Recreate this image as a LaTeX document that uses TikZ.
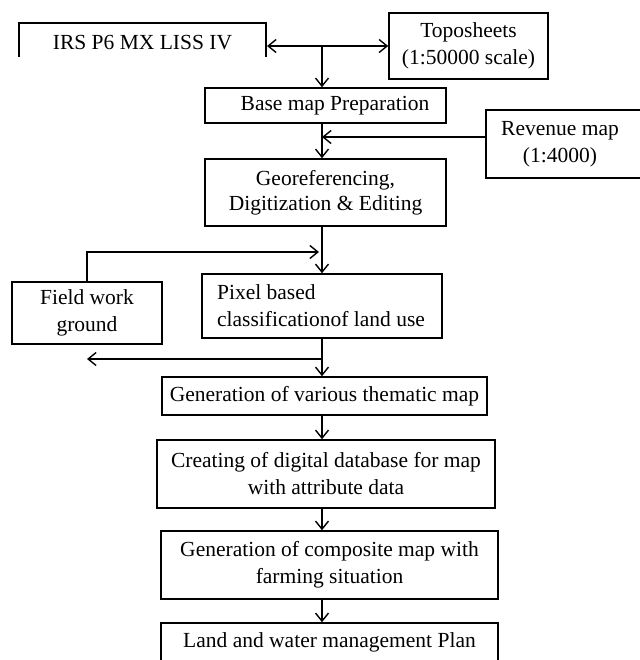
\documentclass[tikz,border=0pt]{standalone}
\usepackage{fontspec}
\setmainfont{Liberation Serif}
\usepackage{tikz}
\usetikzlibrary{arrows.meta,calc}

\begin{document}
\begin{tikzpicture}[x=1pt,y=-1pt,
  box/.style={draw,line width=1.6pt,inner sep=0pt,align=center,font=\fontsize{21.5}{27}\selectfont},
  flow/.style={-{Straight Barb[length=8pt,width=13pt]},line width=1.4pt},
  dflow/.style={{Straight Barb[length=8pt,width=13pt]}-{Straight Barb[length=8pt,width=13pt]},line width=1.4pt}]
\useasboundingbox (0,0) rectangle (639,660);
% inputs
\node[box,draw=none] (irs) at (142.5,43) {IRS P6 MX LISS IV};
\draw[line width=1.6pt] (19,57) -- (19,23) -- (266,23) -- (266,57);
\coordinate (irsE) at (267,46);
\node[box,minimum width=159pt,minimum height=66pt] (topo) at (468.5,46) {Toposheets\\(1:50000 scale)};
\coordinate (split) at (322,46);
\node[box,minimum width=241pt,minimum height=35pt] (base) at (325.5,105.5) {\hspace*{19pt}Base map Preparation};
\node[box,minimum width=180pt,minimum height=68pt] (rev) at (576,144) {\hspace*{-32pt}Revenue map\\\hspace*{-32pt}(1:4000)};
\node[box,minimum width=241pt,minimum height=67pt,font=\fontsize{21.5}{25}\selectfont] (geo) at (325.5,192.5) {Georeferencing,\\Digitization \& Editing};
% classification
\node[box,minimum width=150pt,minimum height=62pt] (field) at (87,313) {Field work\\ground};
\node[box,minimum width=240pt,minimum height=64pt,align=left] (pix) at (322,306) {Pixel based\\classificationof land use\hspace*{2pt}};
\coordinate (fin) at (319,252);
\coordinate (fout) at (322,359);
% outputs
\node[box,minimum width=325pt,minimum height=38pt] (gen) at (324.5,396) {Generation of various thematic map};
\node[box,minimum width=338pt,minimum height=68pt] (create) at (326,474) {Creating of digital database for map\\with attribute data};
\node[box,minimum width=337pt,minimum height=68pt] (comp) at (329.5,565) {Generation of composite map with\\farming situation};
\node[box,minimum width=337pt,minimum height=38pt] (land) at (329.5,642) {Land and water management Plan};
% connectors
\draw[dflow] (irsE) -- (topo.west);
\draw[flow] (split) -- (split |- base.north);
\draw[flow] ([yshift=7pt]rev.west) -- ([yshift=7pt]rev.west -| split);
\draw[flow] (base.south -| split) -- (geo.north -| split);
\draw[flow] (geo.south -| split) -- (pix.north -| split);
\draw[flow] (field.north) |- (fin);
\draw[flow] (pix.south -| split) -- (gen.north -| split);
\draw[flow] (fout) -- (fout -| field.north);
\draw[flow] (gen.south -| split) -- (create.north -| split);
\draw[flow] (create.south -| split) -- (comp.north -| split);
\draw[flow] (comp.south -| split) -- (land.north -| split);
\end{tikzpicture}
\end{document}
